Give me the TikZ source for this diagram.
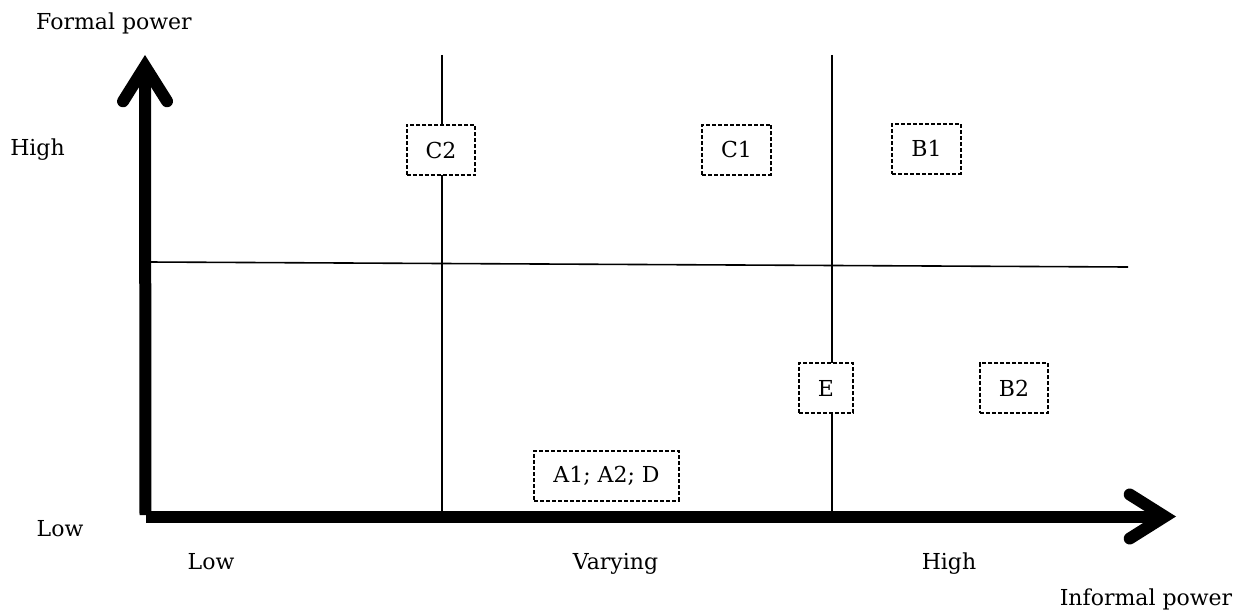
\documentclass[tikz,border=0pt]{standalone}
\usepackage{fontspec}
\setmainfont{DejaVu Serif}
\usetikzlibrary{arrows.meta}
\tikzset{
	axis/.style={line width=12pt,-{Straight Barb[length=35pt,width=44pt,line cap=round,line join=miter]}},
	divider/.style={line width=1.6pt},
	group/.style={draw,line width=2pt,dash pattern=on 4pt off 2pt,fill=white,minimum height=50pt,inner xsep=19pt,font=\fontsize{22}{26}\selectfont},
	lab/.style={anchor=base,font=\fontsize{22}{26}\selectfont}
}
\begin{document}
\begin{tikzpicture}[x=1pt,y=-1pt]
	\useasboundingbox (0,0) rectangle (1242,610);
	% quadrant lines
	\foreach \x in {442,832} \draw[divider] (\x,55) -- (\x,512);
	\draw[divider] (148,262) -- (1128,267);
	% groups
	\node[group] (C2) at (441,150) {C2};
	\node[group] (C1) at (736.5,149.5) {C1};
	\node[group] (B1) at (926.5,148.5) {B1};
	\node[group] (E) at (826,388) {E};
	\node[group] (B2) at (1014,388) {B2};
	\node[group] (A) at (606.5,475.5) {A1; A2; D};
	% axes
	\coordinate (yfoot) at (145.5,515);
	\coordinate (ytop) at (145,55);
	\coordinate (xfoot) at (146,516.5);
	\coordinate (xend) at (1176,516.5);
	\draw[axis] (yfoot) -- (ytop);
	\draw[axis] (xfoot) -- (xend);
	% labels
	\node[lab] (formal) at (114,30) {Formal power};
	\node[lab] (yhigh) at (37.5,155) {High};
	\node[lab] (ylow) at (60,536) {Low};
	\node[lab] (xlow) at (211,569) {Low};
	\node[lab] (xvar) at (615.5,569) {Varying};
	\node[lab] (xhigh) at (949,569) {High};
	\node[lab] (informal) at (1146,605) {Informal power};
\end{tikzpicture}
\end{document}
